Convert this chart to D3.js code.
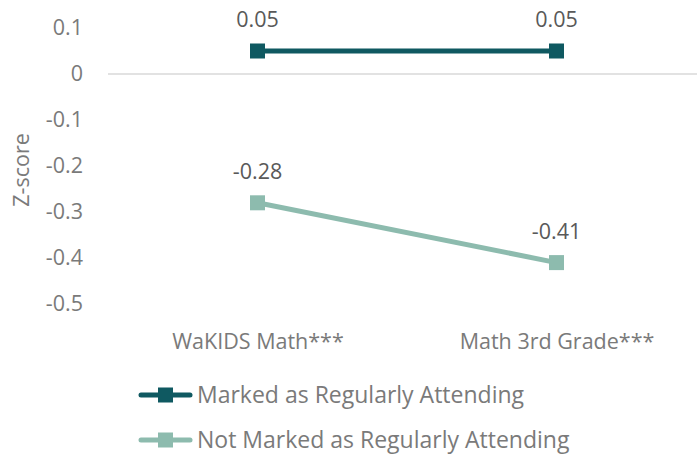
<!DOCTYPE html>
<html>
<head>
<meta charset="utf-8">
<script src="https://cdn.jsdelivr.net/npm/d3@7"></script>
<style>
  html, body { margin: 0; padding: 0; background: #fff; }
  svg { display: block; font-family: "Open Sans", "Noto Sans", sans-serif; }
</style>
</head>
<body>
<svg id="chart" width="697" height="457"></svg>
<script>
// Average z-scores by assessment, split by attendance marking
const categories = ["WaKIDS Math***", "Math 3rd Grade***"];
const seriesNames = ["Marked as Regularly Attending", "Not Marked as Regularly Attending"];
const regularValues = [0.05, 0.05];
const notRegularValues = [-0.28, -0.41];
const yTicks = [0.1, 0, -0.1, -0.2, -0.3, -0.4, -0.5];
const colors = ["#0F5961", "#8DBBAE"];

const FONT = "Open Sans, Noto Sans, sans-serif";
const FS = 21.5;
const LEGEND_FS = 23;
const textGray = "#7a7a7a";

// plain hyphen for negatives
const fmt1 = d => (d === 0 ? "0" : (+d.toFixed(1)).toString());
const fmt2 = d => d.toFixed(2);

const svg = d3.select("#chart");

const x = d3.scalePoint().domain(categories).range([108, 706]).padding(0.5);
const y = d3.scaleLinear().domain([-0.5, 0.1]).range([304, 28]);

// y-axis tick labels
const yAxis = svg.append("g").attr("transform", "translate(83,0)")
  .call(d3.axisLeft(y).tickValues(yTicks).tickSize(0).tickPadding(0).tickFormat(fmt1));
yAxis.select(".domain").remove();
yAxis.selectAll("text")
  .attr("fill", textGray)
  .attr("font-size", FS)
  .attr("font-family", FONT);

// zero baseline
svg.append("line")
  .attr("x1", 108).attr("x2", 697)
  .attr("y1", y(0)).attr("y2", y(0))
  .attr("stroke", "#d9d9d9").attr("stroke-width", 1.3);

// category labels
const xAxis = svg.append("g").attr("transform", "translate(0,334)")
  .call(d3.axisBottom(x).tickSize(0).tickPadding(0));
xAxis.select(".domain").remove();
xAxis.selectAll("text")
  .attr("fill", textGray)
  .attr("font-size", FS)
  .attr("font-family", FONT);

// axis title
svg.append("text")
  .attr("transform", "translate(29,170) rotate(-90)")
  .attr("text-anchor", "middle")
  .attr("fill", textGray)
  .attr("font-size", FS)
  .attr("font-family", FONT)
  .text("Z-score");

const series = [regularValues, notRegularValues];
const line = d3.line().x((d, i) => x(categories[i])).y(d => y(d));
const ms = 15;

series.forEach((vals, si) => {
  const g = svg.append("g");
  g.append("path")
    .attr("d", line(vals))
    .attr("fill", "none")
    .attr("stroke", colors[si])
    .attr("stroke-width", 5);
  g.selectAll("rect").data(vals).join("rect")
    .attr("x", (d, i) => x(categories[i]) - ms / 2)
    .attr("y", d => y(d) - ms / 2)
    .attr("width", ms).attr("height", ms)
    .attr("fill", colors[si]);
  g.selectAll("text").data(vals).join("text")
    .attr("x", (d, i) => x(categories[i]))
    .attr("y", d => y(d) - 24)
    .attr("text-anchor", "middle")
    .attr("fill", "#595959")
    .attr("font-size", FS)
    .attr("font-family", FONT)
    .text(fmt2);
});

// legend
const legend = svg.append("g");
seriesNames.forEach((name, i) => {
  const ly = 395 + i * 45;
  legend.append("line")
    .attr("x1", 141).attr("x2", 190)
    .attr("y1", ly).attr("y2", ly)
    .attr("stroke", colors[i]).attr("stroke-width", 5)
    .attr("stroke-linecap", "round");
  legend.append("rect")
    .attr("x", 158).attr("y", ly - 7.5)
    .attr("width", 15).attr("height", 15)
    .attr("fill", colors[i]);
  legend.append("text")
    .attr("x", 197).attr("y", ly)
    .attr("dy", "0.35em")
    .attr("fill", textGray)
    .attr("font-size", LEGEND_FS)
    .attr("font-family", FONT)
    .text(name);
});
</script>
</body>
</html>
